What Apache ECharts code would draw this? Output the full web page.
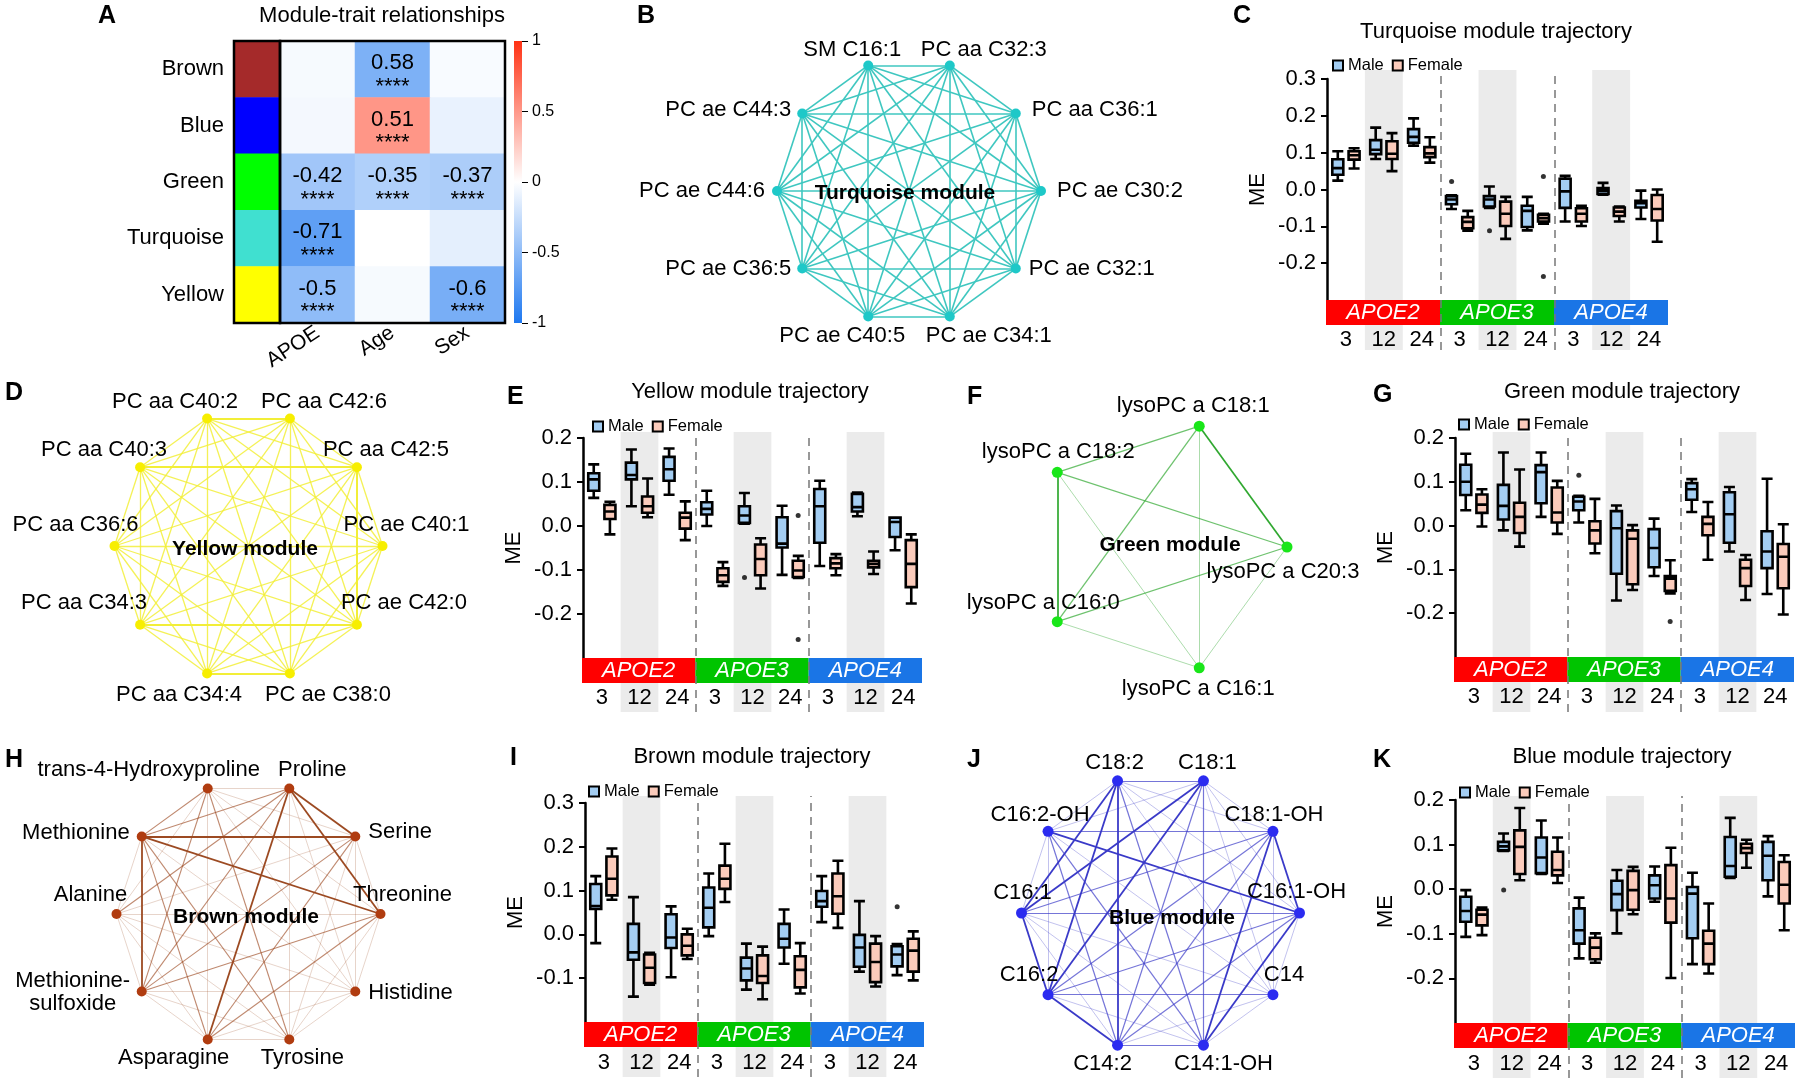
<!DOCTYPE html>
<html><head><meta charset="utf-8">
<script src="https://cdn.jsdelivr.net/npm/echarts@6/dist/echarts.min.js"></script>
<style>html,body{margin:0;padding:0;background:#fff}#c{width:1800px;height:1085px}</style>
</head><body><div id="c"></div>
<script>
// ================= DATA =================
// Panel A
const modules = ['Brown','Blue','Green','Turquoise','Yellow'];
const moduleColors = ['#a52a2a','#0000ff','#00ff00','#40e0d0','#ffff00'];
const traits = ['APOE','Age','Sex'];
const traitColourValue = [
  [-0.04,-0.58,-0.03],
  [-0.05, 0.51,-0.10],
  [-0.42,-0.35,-0.37],
  [-0.71, 0.00,-0.12],
  [-0.50,-0.04,-0.60]];
const traitText = [
  ['','0.58',''],
  ['','0.51',''],
  ['-0.42','-0.35','-0.37'],
  ['-0.71','',''],
  ['-0.5','','-0.6']];
const traitStars = '****';
const colourbarTicks = [1,0.5,0,-0.5,-1];

// Networks (nodes listed clockwise; weights = upper triangle rows, 1 light .. 3 strong)
const turqNodes = ['SM C16:1','PC aa C32:3','PC aa C36:1','PC ae C30:2','PC ae C32:1','PC ae C34:1','PC ae C40:5','PC ae C36:5','PC ae C44:6','PC ae C44:3'];
const turqWeights = ['222222222','22222222','2222222','222222','22222','2222','222','22','2'];
const yellowNodes = ['PC aa C40:2','PC aa C42:6','PC aa C42:5','PC ae C40:1','PC ae C42:0','PC ae C38:0','PC aa C34:4','PC aa C34:3','PC aa C36:6','PC aa C40:3'];
const yellowWeights = ['322222222','22222222','2322223','222222','22322','3222','222','22','2'];
const greenNodes = ['lysoPC a C18:1','lysoPC a C20:3','lysoPC a C16:1','lysoPC a C16:0','lysoPC a C18:2'];
const greenWeights = ['3122','122','11','3'];
const brownNodes = ['trans-4-Hydroxyproline','Proline','Serine','Threonine','Histidine','Tyrosine','Asparagine','Methionine-sulfoxide','Alanine','Methionine'];
const brownWeights = ['111121212','33113222','1112213','112213','11111','1112','112','13','1'];
const blueNodes = ['C18:2','C18:1','C18:1-OH','C16:1-OH','C14','C14:1-OH','C14:2','C16:2','C16:1','C16:2-OH'];
const blueWeights = ['211123331','11122331','3132222','132223','11211','2112','312','31','1'];

// Box plots: groups = genotype x age; each box [min, Q1, median, Q3, max]
const genotypes = ['APOE2','APOE3','APOE4'];
const ages = ['3','12','24'];
const turqMale = [[0.024,0.040,0.058,0.082,0.104],[0.083,0.096,0.108,0.134,0.168],[0.119,0.127,0.143,0.164,0.193],[-0.053,-0.040,-0.027,-0.018,-0.016],[-0.050,-0.046,-0.027,-0.018,0.008],[-0.111,-0.102,-0.058,-0.044,-0.020],[-0.087,-0.050,-0.005,0.029,0.037],[-0.014,-0.012,-0.003,0.004,0.018],[-0.080,-0.049,-0.037,-0.031,-0.003]];
const turqFemale = [[0.057,0.081,0.093,0.104,0.112],[0.050,0.083,0.097,0.131,0.153],[0.073,0.088,0.098,0.115,0.142],[-0.112,-0.105,-0.088,-0.075,-0.058],[-0.134,-0.099,-0.066,-0.033,-0.020],[-0.093,-0.087,-0.078,-0.069,-0.066],[-0.099,-0.087,-0.066,-0.051,-0.044],[-0.087,-0.072,-0.060,-0.049,-0.046],[-0.142,-0.084,-0.053,-0.015,0.000]];
const turqOutliers = [[3,'Male',0.022],[4,'Male',-0.112],[5,'Female',0.035],[5,'Female',-0.236]];
const yellowMale = [[0.064,0.080,0.106,0.120,0.140],[0.045,0.106,0.116,0.144,0.174],[0.071,0.103,0.129,0.157,0.176],[0.000,0.026,0.039,0.054,0.080],[0.005,0.007,0.024,0.045,0.075],[-0.111,-0.049,-0.040,0.020,0.046],[-0.091,-0.038,0.045,0.084,0.103],[0.022,0.033,0.043,0.073,0.076],[-0.055,-0.025,0.009,0.019,0.019]];
const yellowFemale = [[-0.019,0.016,0.033,0.048,0.055],[0.020,0.030,0.045,0.067,0.108],[-0.032,-0.006,0.019,0.030,0.056],[-0.136,-0.127,-0.112,-0.096,-0.082],[-0.142,-0.112,-0.075,-0.042,-0.028],[-0.118,-0.116,-0.101,-0.079,-0.068],[-0.112,-0.096,-0.085,-0.073,-0.064],[-0.109,-0.094,-0.086,-0.079,-0.058],[-0.176,-0.139,-0.086,-0.032,-0.019]];
const yellowOutliers = [[4,'Male',-0.117],[5,'Female',0.024],[5,'Female',-0.258]];
const greenMale = [[0.035,0.070,0.100,0.139,0.164],[-0.011,0.014,0.045,0.093,0.167],[0.020,0.051,0.122,0.138,0.167],[0.007,0.035,0.055,0.066,0.068],[-0.171,-0.110,-0.006,0.033,0.046],[-0.115,-0.095,-0.051,-0.008,0.016],[0.031,0.059,0.083,0.097,0.106],[-0.059,-0.039,0.026,0.076,0.088],[-0.156,-0.097,-0.059,-0.013,0.107]];
const greenFemale = [[-0.002,0.029,0.048,0.071,0.083],[-0.048,-0.017,0.020,0.052,0.128],[-0.019,0.007,0.030,0.087,0.102],[-0.063,-0.041,-0.011,0.010,0.061],[-0.147,-0.134,-0.030,-0.011,0.001],[-0.155,-0.149,-0.121,-0.115,-0.079],[-0.078,-0.022,0.004,0.020,0.054],[-0.170,-0.138,-0.097,-0.078,-0.067],[-0.203,-0.143,-0.071,-0.042,0.003]];
const greenOutliers = [[3,'Male',0.115],[5,'Female',-0.219]];
const brownMale = [[-0.020,0.058,0.065,0.115,0.133],[-0.142,-0.058,-0.041,0.024,0.085],[-0.098,-0.031,-0.007,0.046,0.064],[-0.004,0.016,0.061,0.107,0.139],[-0.126,-0.105,-0.078,-0.053,-0.021],[-0.067,-0.030,-0.010,0.024,0.057],[0.028,0.063,0.076,0.099,0.133],[-0.085,-0.074,-0.030,-0.001,0.076],[-0.093,-0.073,-0.046,-0.027,-0.022]];
const brownFemale = [[0.079,0.089,0.127,0.178,0.196],[-0.115,-0.111,-0.076,-0.046,-0.042],[-0.056,-0.048,-0.026,0.000,0.013],[0.074,0.104,0.127,0.157,0.207],[-0.148,-0.111,-0.095,-0.048,-0.028],[-0.135,-0.121,-0.081,-0.050,-0.020],[0.015,0.047,0.087,0.139,0.168],[-0.119,-0.109,-0.063,-0.021,-0.004],[-0.105,-0.085,-0.037,-0.010,0.007]];
const brownOutliers = [[8,'Male',0.063]];
const blueMale = [[-0.107,-0.073,-0.049,-0.017,-0.002],[0.086,0.087,0.096,0.106,0.125],[0.034,0.036,0.071,0.116,0.154],[-0.155,-0.122,-0.092,-0.043,-0.019],[-0.099,-0.047,-0.011,0.019,0.043],[-0.028,-0.021,0.009,0.031,0.051],[-0.168,-0.110,-0.010,0.005,0.037],[0.025,0.028,0.052,0.117,0.160],[-0.016,0.020,0.075,0.106,0.119]];
const blueFemale = [[-0.103,-0.081,-0.057,-0.046,-0.041],[0.020,0.034,0.095,0.132,0.182],[0.014,0.031,0.043,0.084,0.116],[-0.165,-0.157,-0.131,-0.109,-0.099],[-0.056,-0.046,-0.002,0.041,0.050],[-0.199,-0.075,-0.021,0.054,0.093],[-0.189,-0.168,-0.122,-0.093,-0.032],[0.048,0.081,0.092,0.102,0.111],[-0.092,-0.032,0.010,0.061,0.076]];
const blueOutliers = [[1,'Male',-0.002]];
const ticksTop03 = [0.3,0.2,0.1,0,-0.1,-0.2];
const ticksTop02 = [0.2,0.1,0,-0.1,-0.2];
const ticksBrown = [0.3,0.2,0.1,0,-0.1];

// ================= STYLE / LAYOUT =================
const FONT = '"Liberation Sans", Arial, Helvetica, sans-serif';
const BLUE_END = '#1e78f0', RED_END = '#ff3214';
const maleFill = '#a3cdf2', femaleFill = '#fbcbbb';
const genoColors = ['#ff0000','#00c400','#1a75e6'];

const option = {
  animation: false, backgroundColor: '#fff',
  textStyle: {fontFamily: FONT, color: '#000'},
  title: [], legend: [], grid: [], xAxis: [], yAxis: [],
  polar: [], angleAxis: [], radiusAxis: [], visualMap: [], series: []
};
function addGrid(g, x, y) {
  option.grid.push(g);
  const gi = option.grid.length - 1;
  x.gridIndex = gi; y.gridIndex = gi;
  option.xAxis.push(x); option.yAxis.push(y);
  return gi;
}
function addText(text, x, y, size, bold, align) {
  option.title.push({text, left: x, top: y, padding: 0, textAlign: align || 'center', textVerticalAlign: 'middle',
    textStyle: {fontSize: size, fontWeight: bold ? 'bold' : 'normal', color: '#000', fontFamily: FONT}});
}

// ---------- Panel A ----------
addText('A', 98, 16, 25, true, 'left');
addText('Module-trait relationships', 382, 16, 22, false);
const gA1 = addGrid({left: 234, top: 41, width: 46, height: 282, show: true, borderColor: '#000', borderWidth: 2.5, backgroundColor: 'transparent', z: 5},
  {type: 'category', data: [''], show: false},
  {type: 'category', data: modules, inverse: true, axisLine: {show: false}, axisTick: {show: false},
   axisLabel: {fontSize: 22, margin: 10, color: '#000'}});
option.series.push({type: 'heatmap', name: 'modules', xAxisIndex: gA1, yAxisIndex: gA1,
  data: modules.map((m, i) => [0, i, i]), silent: true});
option.visualMap.push({type: 'piecewise', show: false, seriesIndex: 0, dimension: 2,
  pieces: modules.map((m, i) => ({value: i, color: moduleColors[i]}))});
const gA2 = addGrid({left: 280, top: 41, width: 225, height: 282, show: true, borderColor: '#000', borderWidth: 2.5, backgroundColor: 'transparent', z: 5},
  {type: 'category', data: traits, axisLine: {show: false}, axisTick: {show: false},
   axisLabel: {fontSize: 21, rotate: 33, margin: 8, color: '#000', interval: 0}},
  {type: 'category', data: modules, inverse: true, show: false});
const traitData = [];
traitColourValue.forEach((row, r) => row.forEach((v, c) => traitData.push([c, r, v])));
option.series.push({type: 'heatmap', name: 'traits', xAxisIndex: gA2, yAxisIndex: gA2, data: traitData, silent: true,
  label: {show: true, formatter: p => { const t = traitText[p.data[1]][p.data[0]]; return t ? '{v|' + t + '}\n{s|' + traitStars + '}' : ''; },
    rich: {v: {fontSize: 22, lineHeight: 35, color: '#000', fontFamily: FONT}, s: {fontSize: 22, lineHeight: 12, color: '#000', fontFamily: FONT}}}});
option.visualMap.push({type: 'continuous', show: false, seriesIndex: 1, dimension: 2, min: -1, max: 1,
  inRange: {color: [BLUE_END, '#ffffff', RED_END]}});
addGrid({left: 514, top: 41, width: 8, height: 282, show: true, borderWidth: 0,
  backgroundColor: {type: 'linear', x: 0, y: 0, x2: 0, y2: 1, colorStops: [{offset: 0, color: RED_END}, {offset: 0.5, color: '#ffffff'}, {offset: 1, color: BLUE_END}]}},
  {type: 'category', data: [''], show: false},
  {type: 'value', min: -1, max: 1, position: 'right', axisLine: {show: false}, splitLine: {show: false},
   axisTick: {show: true, length: 6, lineStyle: {color: '#000', width: 1}, customValues: colourbarTicks},
   axisLabel: {fontSize: 16, margin: 10, color: '#000', customValues: colourbarTicks, formatter: v => String(v)}});

// ---------- Networks ----------
function addNetwork(cfg) {
  option.polar.push({center: cfg.center, radius: cfg.R});
  const pi = option.polar.length - 1;
  option.angleAxis.push({polarIndex: pi, type: 'category', data: cfg.nodes, boundaryGap: false, startAngle: cfg.start, clockwise: true, show: false});
  option.radiusAxis.push({polarIndex: pi, type: 'value', min: 0, max: 1, show: false});
  const links = [];
  cfg.weights.forEach((row, i) => row.split('').forEach((w, k) => {
    w = +w;
    if (w > 0) links.push({source: i, target: i + 1 + k, lineStyle: {width: cfg.widths[w], opacity: cfg.opac[w], color: cfg.edge}});
  }));
  option.series.push({type: 'graph', name: cfg.name, coordinateSystem: 'polar', polarIndex: pi, layout: 'none', roam: false,
    symbol: 'circle', symbolSize: cfg.size, itemStyle: {color: cfg.node},
    data: cfg.nodes.map((n, i) => ({name: n, value: [1, i],
      label: {offset: [cfg.labels[i][0], cfg.labels[i][1]], align: cfg.labels[i][2] || 'center',
              formatter: cfg.labels[i][3] || '{b}', lineHeight: 23}})),
    links, label: {show: true, position: 'inside', fontSize: 22, color: '#000', fontFamily: FONT},
    lineStyle: {curveness: 0}, emphasis: {disabled: true}, silent: true, z: 2});
  addText(cfg.title, cfg.titlePos[0], cfg.titlePos[1], 21, true);
}
addText('B', 637, 16, 25, true, 'left');
addNetwork({name: 'turq', nodes: turqNodes, weights: turqWeights, center: [909, 191], R: 132, start: 108, size: 10,
  node: '#1ec8c8', edge: '#3fc7c0', widths: [0, 1, 1.6, 2], opac: [0, 0.6, 1, 1], title: 'Turquoise module', titlePos: [905, 193],
  labels: [[-16,-16],[34,-16],[16,-3,'left'],[16,0,'left'],[13,0,'left'],[39,19],[-26,19],[-11,0,'right'],[-12,0,'right'],[-11,-3,'right']]});
addText('D', 5, 393, 25, true, 'left');
addNetwork({name: 'yellow', nodes: yellowNodes, weights: yellowWeights, center: [248.5, 546], R: 134, start: 108, size: 10,
  node: '#f7ee00', edge: '#f2ee38', widths: [0, 1, 1.3, 2], opac: [0, 0.45, 0.85, 1], title: 'Yellow module', titlePos: [245, 549],
  labels: [[-32,-17],[34,-17],[29,-17],[24,-21],[47,-22],[38,21],[-28,21],[-56,-22],[-39,-21],[-36,-17]]});
addText('F', 967, 397, 25, true, 'left');
addNetwork({name: 'green', nodes: greenNodes, weights: greenWeights, center: [1160, 547], R: 127, start: 72, size: 11,
  node: '#19e619', edge: '#30a830', widths: [0, 1, 1.3, 1.7], opac: [0, 0.4, 0.7, 1], title: 'Green module', titlePos: [1170, 545],
  labels: [[-6,-20],[-4,25],[-1,21],[-14,-19],[1,-20]]});
addText('H', 5, 760, 25, true, 'left');
addNetwork({name: 'brown', nodes: brownNodes, weights: brownWeights, center: [248.5, 914], R: 132, start: 108, size: 10,
  node: '#b03c10', edge: '#9c4a22', widths: [0, 0.8, 1.1, 1.8], opac: [0, 0.3, 0.65, 1], title: 'Brown module', titlePos: [246, 917],
  labels: [[-59,-19],[23,-19],[13,-4,'left'],[22,-19],[13,1,'left'],[13,18],[-34,18],[-69,1,'center','Methionine-\nsulfoxide'],[-26,-19],[-12,-3,'right']]});
addText('J', 967, 760, 25, true, 'left');
addNetwork({name: 'blue', nodes: blueNodes, weights: blueWeights, center: [1160.5, 913], R: 139, start: 108, size: 11,
  node: '#2b2bf0', edge: '#3a3ac8', widths: [0, 0.9, 1.2, 1.8], opac: [0, 0.35, 0.7, 1], title: 'Blue module', titlePos: [1172, 918],
  labels: [[-3,-18],[4,-18],[1,-16],[-3,-21],[11,-20],[20,19],[-15,19],[-19,-20],[1,-20],[-8,-16]]});

// ---------- Box-plot panels ----------
const groups = [];
genotypes.forEach(g => ages.forEach(a => groups.push(g + ' ' + a)));
const bandIdx = genotypes.map((g, i) => i * ages.length + ages.indexOf('12'));
const sepIdx = genotypes.slice(1).map((g, i) => (i + 1) * ages.length);

function addBoxPanel(p) {
  addText(p.letter, p.letterX, p.letterY, 25, true, 'left');
  addText(p.title, p.titleX, p.titleY, 22, false);
  option.legend.push({
    data: [{name: 'Male', itemStyle: {color: maleFill, borderColor: '#000', borderWidth: 2}},
           {name: 'Female', itemStyle: {color: femaleFill, borderColor: '#000', borderWidth: 2}}],
    left: p.legendX, top: p.legendY - 6, itemWidth: 10, itemHeight: 10, itemGap: 8,
    padding: 0, icon: 'rect', selectedMode: false, textStyle: {fontSize: 16.5, color: '#000', fontFamily: FONT}});
  // background bands + separators
  const gb = addGrid({left: p.left, top: p.backTop, width: p.width, height: p.backBottom - p.backTop},
    {type: 'value', min: 0, max: groups.length, show: false},
    {type: 'value', min: 0, max: 1, show: false});
  option.series.push({type: 'scatter', name: 'bg', xAxisIndex: gb, yAxisIndex: gb, data: [], silent: true, z: 1,
    markArea: {silent: true, itemStyle: {color: '#ebebeb'}, data: bandIdx.map(i => [{xAxis: i}, {xAxis: i + 1}])},
    markLine: {silent: true, symbol: ['none', 'none'], label: {show: false}, lineStyle: {color: '#777', type: [8, 6], width: 1.5},
      data: sepIdx.map(i => ({xAxis: i}))}});
  // plot
  const gp = addGrid({left: p.left, top: p.top, width: p.width, height: p.bottom - p.top},
    {type: 'category', data: groups, z: 10, axisLine: {show: false}, axisTick: {show: false},
     axisLabel: {formatter: v => v.split(' ')[1], fontSize: 22, margin: p.xMargin, interval: 0, color: '#000'}},
    {type: 'value', min: p.min, max: p.max, name: 'ME', nameLocation: 'middle', nameGap: 58, nameRotate: 90,
     nameTextStyle: {fontSize: 22, color: '#000', fontFamily: FONT},
     axisLine: {show: true, lineStyle: {color: '#000', width: 2.5}},
     axisTick: {show: true, length: 6, lineStyle: {color: '#000', width: 2}, customValues: p.ticks},
     axisLabel: {fontSize: 22, margin: 11, color: '#000', customValues: p.ticks, formatter: v => v.toFixed(1)},
     splitLine: {show: false}});
  option.series.push({name: 'Male', type: 'boxplot', xAxisIndex: gp, yAxisIndex: gp, data: p.male, boxWidth: [11, 11],
    itemStyle: {color: maleFill, borderColor: '#000', borderWidth: 2.6}, z: 3, silent: true});
  option.series.push({name: 'Female', type: 'boxplot', xAxisIndex: gp, yAxisIndex: gp, data: p.female, boxWidth: [11, 11],
    itemStyle: {color: femaleFill, borderColor: '#000', borderWidth: 2.6}, z: 3, silent: true});
  ['Male', 'Female'].forEach((s, k) => {
    option.series.push({type: 'scatter', name: 'outlier', xAxisIndex: gp, yAxisIndex: gp,
      data: p.out.filter(o => o[1] === s).map(o => [o[0], o[2]]),
      symbolSize: 5, symbolOffset: [k === 0 ? -8 : 8, 0], itemStyle: {color: '#000'}, z: 5, silent: true});
  });
  // genotype strip
  const gs = addGrid({left: p.left - 1, top: p.bottom, width: p.width + 1, height: 25},
    {type: 'category', data: genotypes, show: false},
    {type: 'value', min: 0, max: 1, show: false});
  option.series.push({type: 'bar', name: 'strip', xAxisIndex: gs, yAxisIndex: gs, barWidth: '100%', barCategoryGap: '0%',
    data: genotypes.map((g, i) => ({value: 1, itemStyle: {color: genoColors[i]}})),
    label: {show: true, position: 'inside', formatter: '{b}', color: '#fff', fontStyle: 'italic', fontSize: 22, fontFamily: FONT},
    silent: true, z: 4});
}
addBoxPanel({letter: 'C', letterX: 1233, letterY: 16, title: 'Turquoise module trajectory', titleX: 1496, titleY: 32,
  legendX: 1332, legendY: 63, male: turqMale, female: turqFemale, out: turqOutliers, ticks: ticksTop03, min: -0.3, max: 0.3,
  left: 1327, width: 341, top: 79, bottom: 300, backTop: 70, backBottom: 350, xMargin: 29});
addBoxPanel({letter: 'E', letterX: 507, letterY: 397, title: 'Yellow module trajectory', titleX: 750, titleY: 392,
  legendX: 592, legendY: 424, male: yellowMale, female: yellowFemale, out: yellowOutliers, ticks: ticksTop02, min: -0.3, max: 0.2,
  left: 583, width: 339, top: 438, bottom: 658, backTop: 432, backBottom: 712, xMargin: 29});
addBoxPanel({letter: 'G', letterX: 1373, letterY: 395, title: 'Green module trajectory', titleX: 1622, titleY: 392,
  legendX: 1458, legendY: 422, male: greenMale, female: greenFemale, out: greenOutliers, ticks: ticksTop02, min: -0.3, max: 0.2,
  left: 1455, width: 339, top: 438, bottom: 657, backTop: 432, backBottom: 712, xMargin: 29});
addBoxPanel({letter: 'I', letterX: 510, letterY: 758, title: 'Brown module trajectory', titleX: 752, titleY: 757,
  legendX: 588, legendY: 789, male: brownMale, female: brownFemale, out: brownOutliers, ticks: ticksBrown, min: -0.2, max: 0.3,
  left: 585, width: 339, top: 803, bottom: 1022, backTop: 796, backBottom: 1077, xMargin: 30});
addBoxPanel({letter: 'K', letterX: 1373, letterY: 760, title: 'Blue module trajectory', titleX: 1622, titleY: 757,
  legendX: 1459, legendY: 790, male: blueMale, female: blueFemale, out: blueOutliers, ticks: ticksTop02, min: -0.3, max: 0.2,
  left: 1455, width: 340, top: 800, bottom: 1023, backTop: 796, backBottom: 1078, xMargin: 30});

const chart = echarts.init(document.getElementById('c'), null, {renderer: 'canvas'});
chart.setOption(option);
</script>
</body></html>
